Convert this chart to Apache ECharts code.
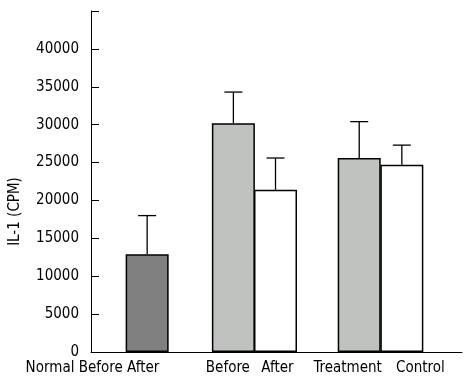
<!DOCTYPE html>
<html>
<head>
<meta charset="utf-8">
<script src="https://cdn.jsdelivr.net/npm/echarts@6/dist/echarts.min.js"></script>
<style>
html, body { margin: 0; padding: 0; background: #fff; }
#main { width: 472px; height: 386px; }
</style>
</head>
<body>
<div id="main"></div>
<script>
// groups shown under the x axis
var categories = ['Normal Before After', 'Before', 'After', 'Treatment', 'Control'];
// IL-1 (CPM) means and the top of each error bar
var means = [12900, 30200, 21400, 25600, 24700];
var upper = [18000, 34300, 25600, 30400, 27300];
var yTicks = [0, 5000, 10000, 15000, 20000, 25000, 30000, 35000, 40000];

// layout: where bars and labels sit along the x axis (axis units = px)
var barPos = [56, 142, 184, 267.5, 310];
var labelPos = [1.5, 136.5, 186, 256, 328.5];
var fills = ['#808080', '#c0c2c0', '#ffffff', '#c0c2c0', '#ffffff'];

var font = "'DejaVu Sans Condensed', 'DejaVu Sans', sans-serif";
var chart = echarts.init(document.getElementById('main'));

var option = {
    animation: false,
    backgroundColor: '#fff',
    grid: {left: 91, right: 10, top: 11, bottom: 34},
    xAxis: {
        type: 'value',
        min: 0,
        max: 370,
        splitLine: {show: false},
        axisLine: {lineStyle: {color: '#000', width: 1}},
        axisTick: {show: false},
        axisLabel: {
            customValues: labelPos,
            color: '#000',
            fontFamily: font,
            fontSize: 15,
            margin: 9,
            formatter: function (v) {
                var i = labelPos.indexOf(v);
                return i < 0 ? '' : categories[i];
            }
        }
    },
    yAxis: {
        type: 'value',
        min: 0,
        max: 45000,
        interval: 5000,
        name: 'IL-1 (CPM)',
        nameLocation: 'middle',
        nameGap: 68,
        nameTextStyle: {color: '#000', fontFamily: font, fontSize: 15, padding: [0, 60, 0, 0]},
        splitLine: {show: false},
        axisLine: {show: true, lineStyle: {color: '#000', width: 1}},
        axisTick: {show: true, inside: true, length: 8, lineStyle: {color: '#000'}},
        axisLabel: {
            color: '#000',
            fontFamily: font,
            fontSize: 15,
            margin: 12,
            formatter: function (v) {
                return yTicks.indexOf(v) < 0 ? '' : String(v);
            }
        }
    },
    series: [{
        type: 'bar',
        barWidth: 43,
        data: means.map(function (m, i) {
            return {
                value: [barPos[i], m],
                itemStyle: {color: fills[i], borderColor: '#000', borderWidth: 1.5}
            };
        })
    }, {
        type: 'custom',
        z: 3,
        data: means.map(function (m, i) {
            return [barPos[i], m, upper[i]];
        }),
        renderItem: function (params, api) {
            var p0 = api.coord([api.value(0), api.value(1)]);
            var p1 = api.coord([api.value(0), api.value(2)]);
            var st = {stroke: '#000', lineWidth: 1.3};
            return {
                type: 'group',
                children: [{
                    type: 'line',
                    shape: {x1: p0[0], y1: p0[1], x2: p1[0], y2: p1[1]},
                    style: st
                }, {
                    type: 'line',
                    shape: {x1: p1[0] - 9, y1: p1[1], x2: p1[0] + 9, y2: p1[1]},
                    style: st
                }]
            };
        }
    }]
};
chart.setOption(option);
</script>
</body>
</html>
